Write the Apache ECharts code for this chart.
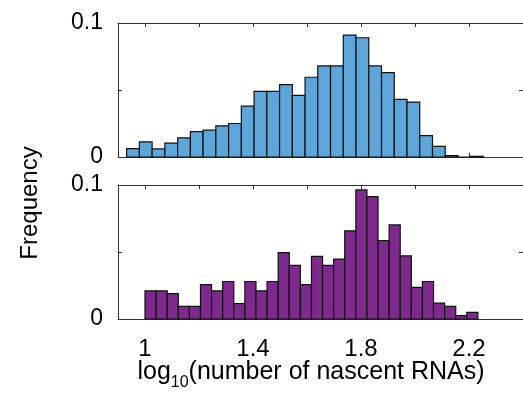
<!DOCTYPE html>
<html>
<head>
<meta charset="utf-8">
<script src="https://cdn.jsdelivr.net/npm/echarts@6/dist/echarts.min.js"></script>
<style>
  html, body { margin: 0; padding: 0; background: #fff; }
  #chart { width: 523px; height: 396px; }
</style>
</head>
<body>
<div id="chart"></div>
<script>
// histogram bins
const topBinStart = 0.932;
const topBinWidth = 0.0472;
const topFreq = [0.0063, 0.0113, 0.006, 0.0103, 0.0143, 0.019, 0.020, 0.0233, 0.025, 0.038,
  0.049, 0.049, 0.054, 0.046, 0.0595, 0.068, 0.068, 0.091, 0.089, 0.068,
  0.063, 0.043, 0.041, 0.016, 0.008, 0.001, 0, 0.0005];

const bottomBinStart = 1.0;
const bottomBinWidth = 0.0411;
const bottomFreq = [0.021, 0.021, 0.019, 0.0094, 0.0094, 0.0256, 0.021, 0.028, 0.0114, 0.028,
  0.021, 0.028, 0.0496, 0.040, 0.0256, 0.0467, 0.040, 0.0447, 0.0658, 0.0963,
  0.0913, 0.0586, 0.0702, 0.0471, 0.0236, 0.028, 0.0119, 0.0094, 0.0025, 0.005];

const xTicks = [1, 1.2, 1.4, 1.6, 1.8, 2.0, 2.2];
const xTickLabels = [1, 1.4, 1.8, 2.2];
const yTicks = [0, 0.05, 0.1];
const yTickLabels = [0, 0.1];

const FONT = 'Liberation Sans, Arial, Helvetica, sans-serif';
const AXIS_COLOR = '#333';

const toBins = (start, width, freq) =>
  freq.map((f, i) => [start + i * width, start + (i + 1) * width, f]);

const histSeries = (idx, bins, color) => ({
  type: 'custom',
  xAxisIndex: idx * 2,
  yAxisIndex: idx * 2,
  data: bins,
  renderItem: (params, api) => {
    const p0 = api.coord([api.value(0), api.value(2)]);
    const p1 = api.coord([api.value(1), 0]);
    return {
      type: 'rect',
      shape: { x: p0[0], y: p0[1], width: p1[0] - p0[0], height: p1[1] - p0[1] },
      style: { fill: color, stroke: '#111', lineWidth: 1.2 },
    };
  },
});

const xAxisFor = (gridIndex, position, showLabels) => ({
  type: 'value',
  gridIndex,
  position,
  min: 0.9,
  max: 2.4,
  splitLine: { show: false },
  axisLine: { show: true, onZero: false, lineStyle: { color: AXIS_COLOR, width: 1 } },
  axisTick: { show: true, inside: true, length: 4, customValues: xTicks,
    lineStyle: { color: AXIS_COLOR } },
  axisLabel: showLabels
    ? { show: true, customValues: xTickLabels, margin: 18, fontSize: 24,
        fontFamily: FONT, color: '#000' }
    : { show: false },
});

const yAxisFor = (gridIndex, position, showLabels) => ({
  type: 'value',
  gridIndex,
  position,
  min: 0,
  max: 0.1,
  splitLine: { show: false },
  axisLine: { show: true, onZero: false, lineStyle: { color: AXIS_COLOR, width: 1 } },
  axisTick: { show: true, inside: true, length: 4, customValues: yTicks,
    lineStyle: { color: AXIS_COLOR } },
  axisLabel: showLabels
    ? { show: true, customValues: yTickLabels, margin: 15, fontSize: 23,
        fontFamily: FONT, color: '#000' }
    : { show: false },
});

const chart = echarts.init(document.getElementById('chart'));
chart.setOption({
  animation: false,
  backgroundColor: '#fff',
  grid: [
    { left: 118, width: 407, top: 23, height: 134 },
    { left: 118, width: 407, top: 185, height: 134 },
  ],
  xAxis: [
    xAxisFor(0, 'bottom', false),
    xAxisFor(0, 'top', false),
    xAxisFor(1, 'bottom', true),
    xAxisFor(1, 'top', false),
  ],
  yAxis: [
    yAxisFor(0, 'left', true),
    yAxisFor(0, 'right', false),
    yAxisFor(1, 'left', true),
    yAxisFor(1, 'right', false),
  ],
  series: [
    histSeries(0, toBins(topBinStart, topBinWidth, topFreq), '#5ea6da'),
    histSeries(1, toBins(bottomBinStart, bottomBinWidth, bottomFreq), '#7e2a8c'),
  ],
  graphic: [
    {
      type: 'text',
      x: 30, y: 203,
      rotation: Math.PI / 2,
      style: { text: 'Frequency', fontSize: 24, fontFamily: FONT, fill: '#000',
        align: 'center', verticalAlign: 'middle' },
    },
    {
      type: 'text',
      x: 311, y: 385,
      style: {
        text: '{n|log}{s|10}{n|(number of nascent RNAs)}',
        align: 'center',
        verticalAlign: 'bottom',
        fontFamily: FONT,
        fill: '#000',
        rich: {
          n: { fontSize: 25, fontFamily: FONT, lineHeight: 25, verticalAlign: 'bottom' },
          s: { fontSize: 16, fontFamily: FONT, lineHeight: 16, verticalAlign: 'bottom',
            padding: [0, 0, -6, 0] },
        },
      },
    },
  ],
});
</script>
</body>
</html>
